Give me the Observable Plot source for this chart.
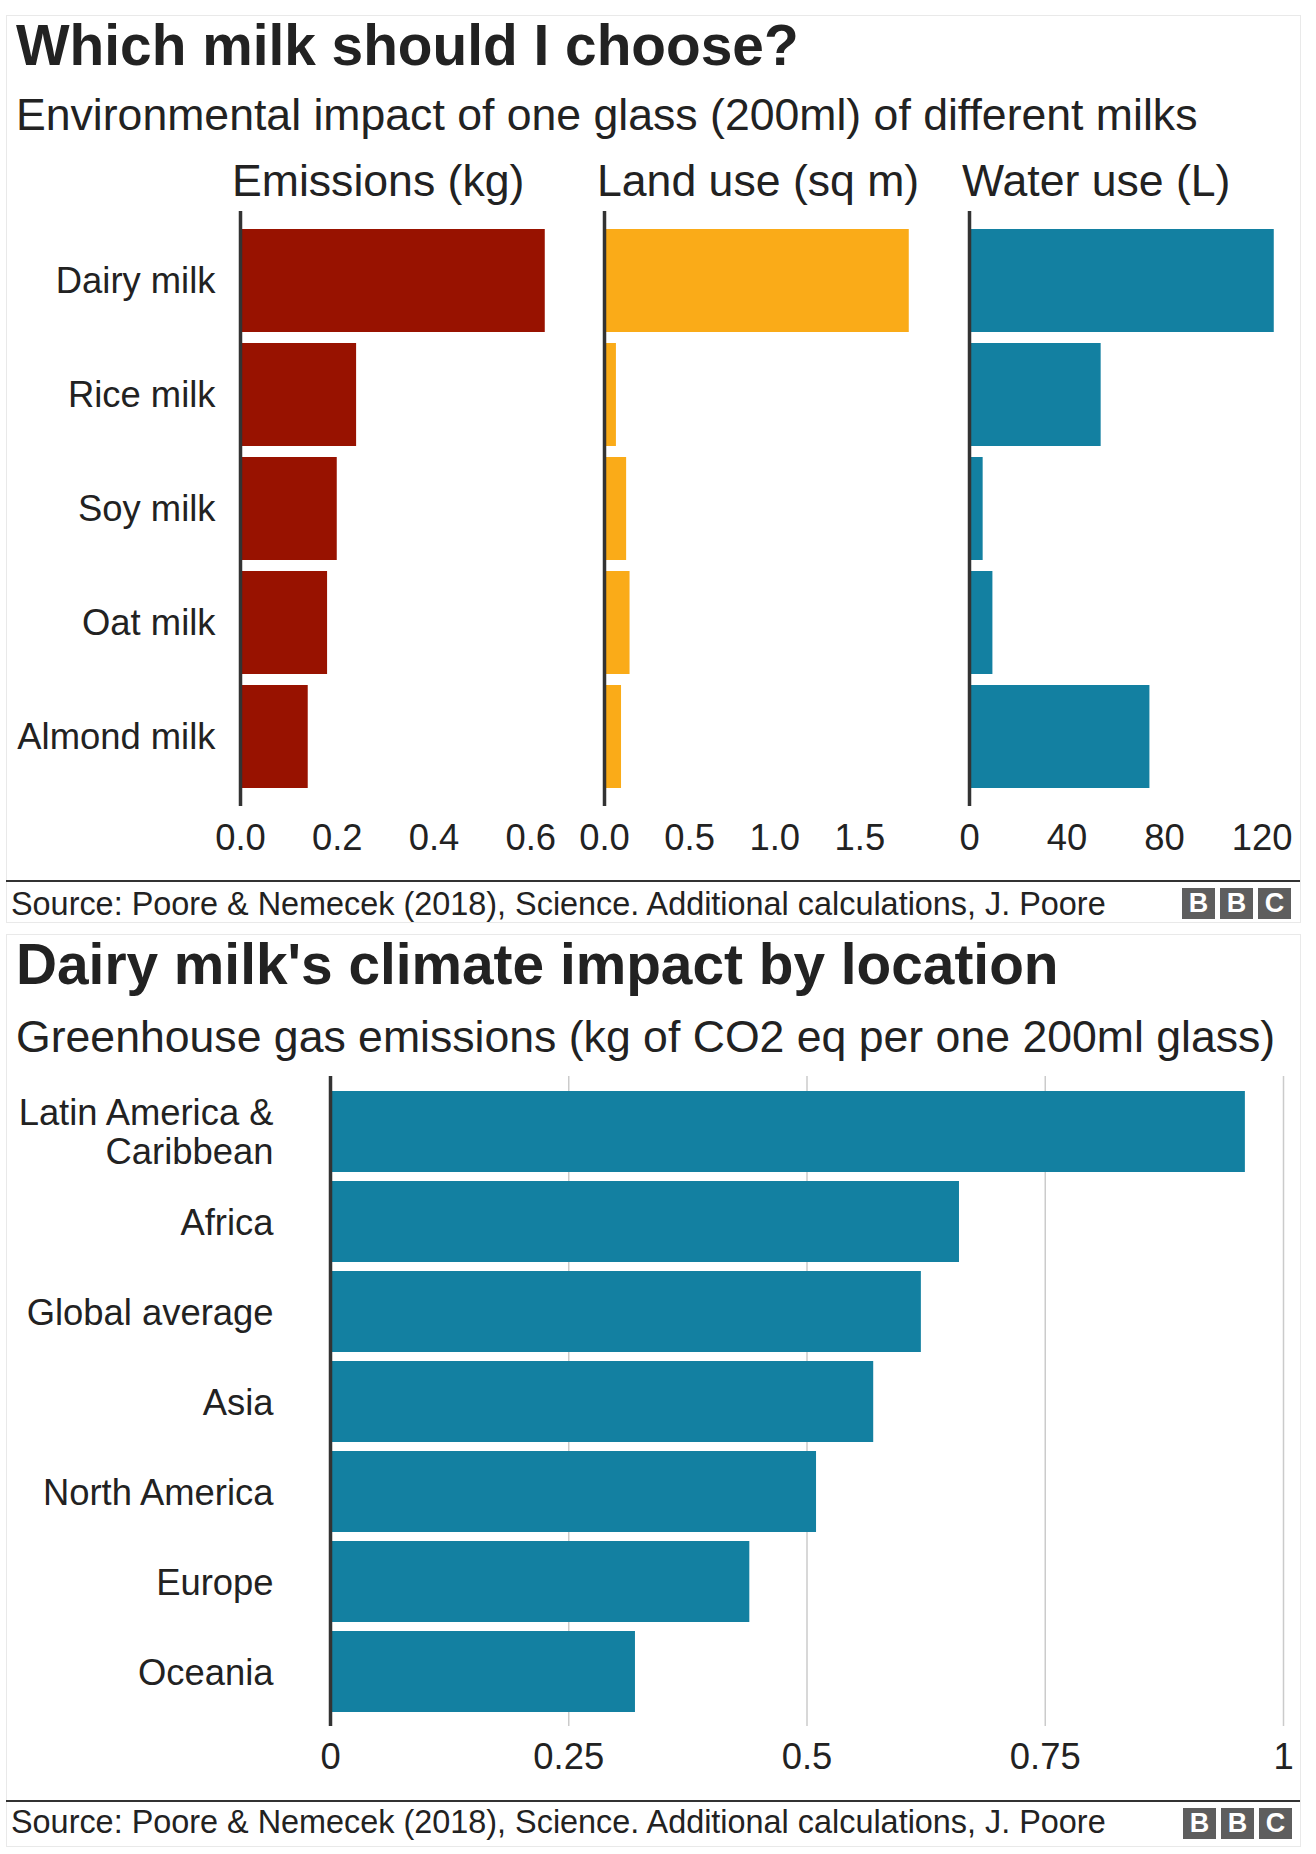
<!DOCTYPE html>
<html>
<head>
<meta charset="utf-8">
<script src="https://cdn.jsdelivr.net/npm/d3@7"></script>
<script src="https://cdn.jsdelivr.net/npm/@observablehq/plot@0.6"></script>
<style>
  html, body { margin: 0; padding: 0; background: #fff; }
  body { font-family: "Liberation Sans", Arial, Helvetica, sans-serif; color: #222222; }
  #page { position: relative; width: 1316px; height: 1854px; overflow: hidden; }
  .frame { position: absolute; border: 1px solid #e9e9e9; box-sizing: border-box; }
  .t { position: absolute; white-space: nowrap; line-height: 1; }
  .title { font-weight: bold; font-size: 56.8px; }
  .sub { font-size: 44.6px; }
  .facet { font-size: 44.6px; }
  .source { font-size: 32.4px; }
  .rule { position: absolute; left: 6px; width: 1294px; height: 2px; background: #333; }
  .bbc { position: absolute; display: flex; gap: 5px; }
  .bbc span { display: block; width: 33px; height: 31px; background: #5e5e5e; color: #fff;
              font-weight: bold; font-size: 27px; line-height: 31px; text-align: center; }
  .plotbox { position: absolute; }
  .plotbox svg { display: block; max-width: none; overflow: visible; }
</style>
</head>
<body>
<div id="page">
  <div class="frame" style="left:6px; top:15px; width:1295px; height:908px;"></div>
  <div class="frame" style="left:6px; top:934px; width:1295px; height:913px;"></div>

  <div class="t title" style="left:16px; top:18px;">Which milk should I choose?</div>
  <div class="t sub" style="left:16px; top:93.3px;">Environmental impact of one glass (200ml) of different milks</div>
  <div id="facets"></div>
  <div id="chart1"></div>
  <div class="rule" style="top:880px;"></div>
  <div class="t source" style="left:11px; top:887.6px;">Source: Poore &amp; Nemecek (2018), Science. Additional calculations, J. Poore</div>
  <div class="bbc" style="left:1182px; top:888px;"><span>B</span><span>B</span><span>C</span></div>

  <div class="t title" style="left:16px; top:937px;">Dairy milk's climate impact by location</div>
  <div class="t sub" style="left:16px; top:1015.3px;">Greenhouse gas emissions (kg of CO2 eq per one 200ml glass)</div>
  <div id="chart2"></div>
  <div class="rule" style="top:1800px;"></div>
  <div class="t source" style="left:11px; top:1805.6px;">Source: Poore &amp; Nemecek (2018), Science. Additional calculations, J. Poore</div>
  <div class="bbc" style="left:1183px; top:1808px;"><span>B</span><span>B</span><span>C</span></div>
</div>

<script>
// ---------- DATA ----------
const milks = ["Dairy milk", "Rice milk", "Soy milk", "Oat milk", "Almond milk"];
const emissionsKg = [0.63, 0.24, 0.20, 0.18, 0.14];
const landUseSqM = [1.79, 0.07, 0.13, 0.15, 0.10];
const waterUseL = [125, 54, 5.6, 9.6, 74];
const panelTitles = ["Emissions (kg)", "Land use (sq m)", "Water use (L)"];
const emissionsTicks = [0, 0.2, 0.4, 0.6];
const landTicks = [0, 0.5, 1.0, 1.5];
const waterTicks = [0, 40, 80, 120];

const regions = ["Latin America & Caribbean", "Africa", "Global average", "Asia", "North America", "Europe", "Oceania"];
const regionEmissions = [0.96, 0.66, 0.62, 0.57, 0.51, 0.44, 0.32];
const regionTicks = [0, 0.25, 0.5, 0.75, 1];

// ---------- RENDER ----------
const FONT = '"Liberation Sans", Arial, Helvetica, sans-serif';
const INK = "#222222";
const AXIS_FONT = "36.4px";

function milkPanel(values, ticks, fmt, color, showY, boxLeft, marginLeft, marginRight) {
  const data = milks.map((m, i) => ({milk: m, value: values[i]}));
  const plotW = 320;
  const max = d3.max(values) * 1.05;
  const svg = Plot.plot({
    width: marginLeft + plotW + marginRight,
    height: 681,
    marginTop: 31,
    marginBottom: 55,
    marginLeft,
    marginRight,
    style: {fontFamily: FONT, fontSize: AXIS_FONT, color: INK, background: "transparent", overflow: "visible"},
    x: {domain: [0, max], label: null, axis: null},
    y: {domain: milks, paddingInner: 0.1, paddingOuter: 0.15, label: null, axis: null},
    marks: [
      Plot.barX(data, {x: "value", y: "milk", fill: color}),
      Plot.ruleX([0], {stroke: "#333333", strokeWidth: 3.5}),
      Plot.axisX({ticks, tickFormat: fmt, tickSize: 0, tickPadding: 18, fill: INK, label: null}),
      showY ? Plot.axisY({tickSize: 0, tickPadding: 25, fill: INK, label: null}) : null
    ]
  });
  const box = document.createElement("div");
  box.className = "plotbox";
  box.style.left = boxLeft + "px";
  box.style.top = "180px";
  box.appendChild(svg);
  document.getElementById("chart1").appendChild(box);
}

milkPanel(emissionsKg, emissionsTicks, d3.format(".1f"), "#981200", true, 0, 240, 0);
milkPanel(landUseSqM, landTicks, d3.format(".1f"), "#FAAB18", false, 560, 44, 1);
milkPanel(waterUseL, waterTicks, d => String(d), "#1380A1", false, 925, 44, 27);

// facet titles
const facetLefts = [232, 597, 962];
panelTitles.forEach((t, i) => {
  const d = document.createElement("div");
  d.className = "t facet";
  d.style.left = facetLefts[i] + "px";
  d.style.top = "159.3px";
  d.textContent = t;
  document.getElementById("facets").appendChild(d);
});

// chart 2
{
  const data = regions.map((r, i) => ({region: r, value: regionEmissions[i]}));
  const svg = Plot.plot({
    width: 1316,
    height: 746,
    marginTop: 36,
    marginBottom: 60,
    marginLeft: 330,
    marginRight: 33,
    style: {fontFamily: FONT, fontSize: AXIS_FONT, color: INK, background: "transparent", overflow: "visible"},
    x: {domain: [0, 1], label: null, axis: null},
    y: {domain: regions, paddingInner: 0.1, paddingOuter: 0.15, label: null, axis: null},
    marks: [
      Plot.ruleX(regionTicks.filter(t => t > 0), {stroke: "#cbcbcb", strokeWidth: 1.5}),
      Plot.barX(data, {x: "value", y: "region", fill: "#1380A1"}),
      Plot.ruleX([0], {stroke: "#333333", strokeWidth: 3.5}),
      Plot.axisX({ticks: regionTicks, tickFormat: d => String(d), tickSize: 0, tickPadding: 17, fill: INK, label: null}),
      Plot.axisY({tickSize: 0, tickPadding: 57, fill: INK, label: null, lineHeight: 1.08,
                  tickFormat: d => d.replace("& ", "&\n")})
    ]
  });
  const box = document.createElement("div");
  box.className = "plotbox";
  box.style.left = "0px";
  box.style.top = "1040px";
  box.appendChild(svg);
  document.getElementById("chart2").appendChild(box);
}
</script>
</body>
</html>
